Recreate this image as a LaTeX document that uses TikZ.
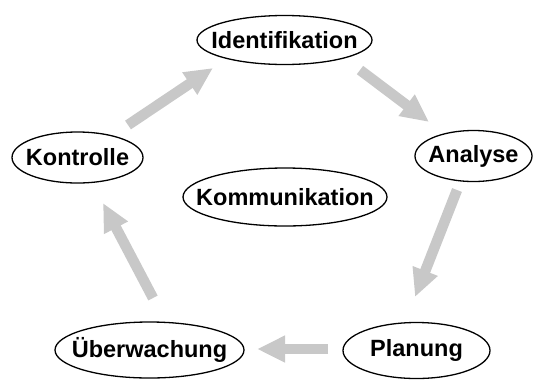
\documentclass[tikz,border=0pt]{standalone}
\usepackage{fontspec}
\setmainfont{Liberation Sans}
\usetikzlibrary{arrows.meta}
\definecolor{arrgray}{RGB}{200,200,200}
\tikzset{
	phase/.style={inner sep=0pt,font=\fontsize{23.5}{28}\selectfont\bfseries},
	ring/.style={line width=1.3pt},
	flow/.style={draw=arrgray,line width=10.5pt,
		-{Triangle[length=28pt,width=25pt,fill=arrgray]}}
}
\begin{document}
\begin{tikzpicture}[x=1pt,y=-1pt]
		\useasboundingbox (0,0) rectangle (535,381);
		\node[phase] (id) at (284.5,40) {Identifikation};
		\node[phase] (an) at (473.5,156) {Analyse};
		\node[phase] (pl) at (416.5,350.5) {Planung};
		\node[phase] (ue) at (149.5,350) {Überwachung};
		\node[phase] (ko) at (77.5,157.5) {Kontrolle};
		\node[phase] (km) at (285,197) {Kommunikation};
		\draw[ring] (id.center) ellipse [x radius=87.5pt,y radius=24.5pt];
		\draw[ring] (an.center) ellipse [x radius=58.5pt,y radius=25.5pt];
		\draw[ring] (pl.center) ellipse [x radius=73.5pt,y radius=28pt];
		\draw[ring] (ue.center) ellipse [x radius=94.5pt,y radius=28pt];
		\draw[ring] (ko.center) ellipse [x radius=65.5pt,y radius=25.5pt];
		\draw[ring] (km.center) ellipse [x radius=102pt,y radius=29pt];
		\coordinate (a1) at (128,125); \coordinate (b1) at (213,68);
		\coordinate (a2) at (360,70);  \coordinate (b2) at (429,122);
		\coordinate (a3) at (457,190); \coordinate (b3) at (415,297);
		\coordinate (a4) at (328,349); \coordinate (b4) at (257,349);
		\coordinate (a5) at (153,298); \coordinate (b5) at (103,203);
		\draw[flow] (a1) -- (b1);
		\draw[flow] (a2) -- (b2);
		\draw[flow] (a3) -- (b3);
		\draw[flow] (a4) -- (b4);
		\draw[flow] (a5) -- (b5);
	\end{tikzpicture}
\end{document}
